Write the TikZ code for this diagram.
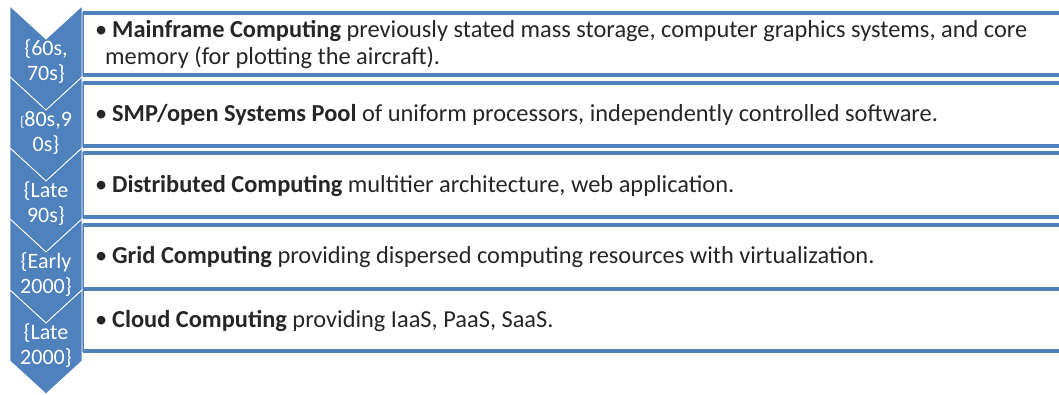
\documentclass[tikz,border=0pt]{standalone}
\usepackage{fontspec}
\setmainfont{Carlito}
\definecolor{accent}{HTML}{4F81BD}
\definecolor{txt}{HTML}{262626}
\begin{document}
\begin{tikzpicture}[x=1pt,y=-1pt,
  chev/.style={fill=accent, draw=white, line width=0.8pt, line join=miter},
  thickline/.style={draw=accent, line width=4.5pt},
  thinline/.style={draw=accent, line width=1.4pt},
  lbl/.style={text=white, font=\fontsize{22}{25}\selectfont, align=center, inner sep=0pt},
  item/.style={text=txt, font=\fontsize{24.4}{26}\selectfont, anchor=base west, inner sep=0pt}]
\useasboundingbox (0,0) rectangle (1059,394);
% boxes
\foreach \t/\b in {13/75, 83/146, 153/217, 225/289, 289/351}{
  \draw[thinline] (1062,\t) -- (83,\t) -- (83,\b) -- (1062,\b);
  \draw[thickline] (83,\t) -- (1062,\t);
  \draw[thickline] (83,\b) -- (1062,\b);
}
% chevrons
\foreach \y in {6,77,148,219,290}{
  \draw[chev] (10,\y) -- (46,\y+33) -- (82,\y) -- (82,\y+71) -- (46,\y+104) -- (10,\y+71) -- cycle;
}
% chevron labels
\node[lbl] (c1) at (46,62) {\{60s,\\70s\}};
\node[lbl] (c2) at (46,133) {{\fontsize{14}{14}\selectfont\{}80s,9\\0s\}};
\node[lbl] (c3) at (46,204) {\{Late\\90s\}};
\node[lbl] (c4) at (46,275) {\{Early\\2000\}};
\node[lbl] (c5) at (46,346) {\{Late\\2000\}};
% items
\newcommand{\bul}{\makebox[17pt][l]{•}}
\node[item] (t1a) at (95,37) {\bul\textbf{Mainframe Computing} previously stated mass storage, computer graphics systems, and core};
\node[item] (t1b) at (105,64) {memory (for plotting the aircraft).};
\node[item] (t2) at (95,121) {\bul\textbf{SMP/open Systems Pool} of uniform processors, independently controlled software.};
\node[item] (t3) at (95,192) {\bul\textbf{Distributed Computing} multitier architecture, web application.};
\node[item] (t4) at (95,263) {\bul\textbf{Grid Computing} providing dispersed computing resources with virtualization.};
\node[item] (t5) at (95,327) {\bul\textbf{Cloud Computing} providing IaaS, PaaS, SaaS.};
\end{tikzpicture}
\end{document}
